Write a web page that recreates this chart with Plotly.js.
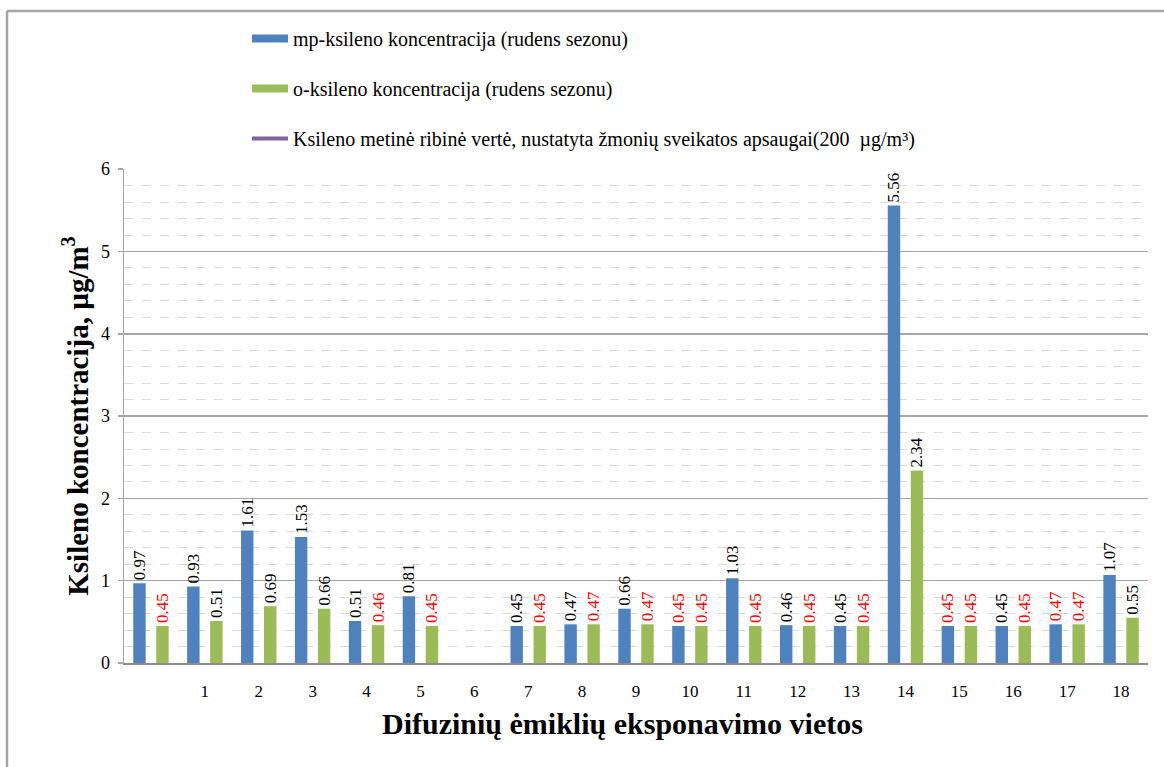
<!DOCTYPE html>
<html>
<head>
<meta charset="utf-8">
<script src="https://cdn.plot.ly/plotly-3.0.1.min.js"></script>
<style>
html,body{margin:0;padding:0;background:#fff;}
#chart{width:1164px;height:767px;}
</style>
</head>
<body>
<div id="chart"></div>
<script>
// Category positions (first group has no tick label; group 6 has no data)
const positions = [0,1,2,3,4,5,6,7,8,9,10,11,12,13,14,15,16,17,18];
const tickLabels = ["1","2","3","4","5","6","7","8","9","10","11","12","13","14","15","16","17","18"];
const tickPositions = [1,2,3,4,5,6,7,8,9,10,11,12,13,14,15,16,17,18];

const mpXylene = [0.97,0.93,1.61,1.53,0.51,0.81,null,0.45,0.47,0.66,0.45,1.03,0.46,0.45,5.56,0.45,0.45,0.47,1.07];
const oXylene  = [0.45,0.51,0.69,0.66,0.46,0.45,null,0.45,0.47,0.47,0.45,0.45,0.45,0.45,2.34,0.45,0.45,0.47,0.55];
const limitValue = [200,200,200,200,200,200,200,200,200,200,200,200,200,200,200,200,200,200,200];

const mpLabelColors = ["black","black","black","black","black","black","black","black","black","black","red","black","black","black","black","red","black","red","black"];
const oLabelColors  = ["red","black","black","black","red","red","black","red","red","red","red","red","red","red","black","red","red","red","black"];

const names = [
  "mp-ksileno koncentracija (rudens sezonu)",
  "o-ksileno koncentracija (rudens sezonu)",
  "Ksileno metinė ribinė vertė, nustatyta žmonių sveikatos apsaugai(200  µg/m³)"
];

const fmt = v => v === null ? " " : v.toFixed(2);
const serif = "Liberation Serif";

const traces = [
  {
    type: "bar", name: names[0], x: positions, y: mpXylene,
    marker: {color: "#4f81bd"},
    text: mpXylene.map(fmt), textposition: "outside", textangle: -90,
    textfont: {family: serif, size: 17, color: mpLabelColors},
    constraintext: "none", cliponaxis: false, legendgroup: "a", hoverinfo: "y"
  },
  {
    type: "bar", name: names[1], x: positions, y: oXylene,
    marker: {color: "#9bbb59"},
    text: oXylene.map(fmt), textposition: "outside", textangle: -90,
    textfont: {family: serif, size: 17, color: oLabelColors},
    constraintext: "none", cliponaxis: false, legendgroup: "b", hoverinfo: "y"
  },
  {
    type: "scatter", mode: "lines", name: names[2], x: positions, y: limitValue,
    line: {color: "#8064a2", width: 4}, legendgroup: "c", hoverinfo: "y"
  }
];

const L = 124, R = 16, T = 169, B = 104;
const pw = 1164 - L - R, ph = 767 - T - B;
const px2x = p => (p - L) / pw;
const px2y = p => (767 - B - p) / ph;

const layout = {
  width: 1164, height: 767,
  margin: {l: L, r: R, t: T, b: B},
  paper_bgcolor: "#fff", plot_bgcolor: "#fff",
  font: {family: serif, size: 16, color: "#000"},
  barmode: "group", bargap: 0.147, bargroupgap: 0.46,
  showlegend: true,
  legend: {
    x: px2x(247), y: px2y(19), xanchor: "left", yanchor: "top",
    font: {family: serif, size: 20, color: "#000"},
    tracegroupgap: 21, traceorder: "grouped", itemwidth: 36,
    bgcolor: "rgba(0,0,0,0)"
  },
  xaxis: {
    range: [-0.5, 18.5], tickmode: "array", tickvals: tickPositions, ticktext: tickLabels,
    showgrid: false, zeroline: false, showline: true, linecolor: "#8c8c8c", linewidth: 2,
    ticks: "", ticklabelstandoff: 12,
    tickfont: {family: serif, size: 17, color: "#000"}
  },
  yaxis: {
    range: [0, 6.002], dtick: 1, tick0: 0, fixedrange: true,
    showgrid: true, gridcolor: "#a6a6a6", gridwidth: 1.5,
    zeroline: false, showline: true, linecolor: "#a6a6a6", linewidth: 1.5,
    ticks: "outside", ticklen: 5, tickcolor: "#a6a6a6", tickwidth: 1.5,
    ticklabelstandoff: 4,
    tickfont: {family: serif, size: 18, color: "#000"},
    minor: {dtick: 0.2, showgrid: true, gridcolor: "#d9d9d9", griddash: "dash", gridwidth: 1, ticks: ""},
    title: {text: "<b>Ksileno koncentracija, µg/m<sup>3</sup></b>", font: {family: serif, size: 29, color: "#000"}, standoff: 4}
  },
  annotations: [
    {text: "<b>Difuzinių ėmiklių eksponavimo vietos</b>", xref: "paper", yref: "paper",
     x: px2x(622), y: px2y(723), xanchor: "center", yanchor: "middle", showarrow: false,
     font: {family: serif, size: 30, color: "#000"}}
  ],
  shapes: [
    {type: "line", xref: "paper", yref: "paper", x0: px2x(7), x1: px2x(1170), y0: px2y(11), y1: px2y(11), line: {color: "#a6a6a6", width: 2.5}},
    {type: "line", xref: "paper", yref: "paper", x0: px2x(7), x1: px2x(7), y0: px2y(11), y1: px2y(780), line: {color: "#a6a6a6", width: 2.5}}
  ]
};

Plotly.newPlot("chart", traces, layout, {displayModeBar: false, staticPlot: true}).then(gd => {
  // widen the bar legend swatches into flat rectangles like the original
  const items = gd.querySelectorAll(".legend .traces");
  [0, 1].forEach(i => {
    if (!items[i]) return;
    items[i].querySelectorAll(".legendpoints path").forEach(p => p.setAttribute("d", "M-18,4H18V-4H-18Z"));
  });
});
</script>
</body>
</html>
